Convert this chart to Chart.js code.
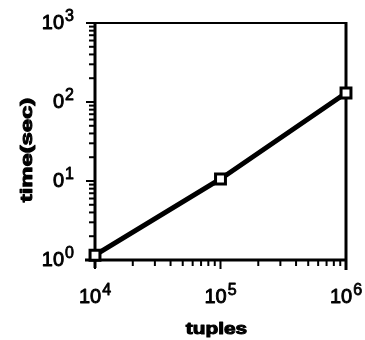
<!DOCTYPE html>
<html>
<head>
<meta charset="utf-8">
<script src="https://cdn.jsdelivr.net/npm/chart.js@4/dist/chart.umd.min.js"></script>
<style>
  html, body { margin: 0; padding: 0; background: #fff; }
  #wrap { width: 365px; height: 340px; }
</style>
</head>
<body>
<div id="wrap"><canvas id="myChart"></canvas></div>
<script>
// data
var tuples = [1e4, 1e5, 1e6];
var times = [1.15, 10.6, 130];

// tick labels (base + exponent), as printed in the figure
var xTickValues = [1e4, 1e5, 1e6];
var xTickBases = ['10', '10', '10'];
var xTickExps = ['4', '5', '6'];
var yTickValues = [1, 10, 100, 1000];
var yTickBases = ['10', '0', '0', '10'];
var yTickExps = ['0', '1', '2', '3'];

var xTitle = 'tuples';
var yTitle = 'time(sec)';

var FONT = '"Liberation Sans", Arial, sans-serif';

// heavy text, like the scanned print
function inkText(ctx, s, x, y, w) {
  ctx.lineWidth = w;
  ctx.strokeText(s, x, y);
  ctx.fillText(s, x, y);
}

function powLabel(ctx, base, exp, x, y, align) {
  ctx.font = '20px ' + FONT;
  var wb = ctx.measureText(base).width;
  ctx.font = '16px ' + FONT;
  var we = ctx.measureText(exp).width;
  var left = align === 'right' ? x - wb - we - 1 : x - (wb + we + 1) / 2;
  ctx.textAlign = 'left';
  ctx.textBaseline = 'alphabetic';
  ctx.font = '20px ' + FONT;
  inkText(ctx, base, left, y, 0.9);
  ctx.font = '16px ' + FONT;
  inkText(ctx, exp, left + wb + 1, y - 8, 0.8);
}

// axes, ticks, labels and titles drawn from the chart's own scales
var axesPlugin = {
  id: 'axesPlugin',
  beforeDatasetsDraw: function (chart) {
    var ctx = chart.ctx, a = chart.chartArea;
    var xs = chart.scales.x, ys = chart.scales.y;
    ctx.save();
    ctx.strokeStyle = '#000';
    ctx.fillStyle = '#000';
    ctx.lineCap = 'butt';
    ctx.lineJoin = 'round';
    // frame
    ctx.lineWidth = 2;
    ctx.beginPath(); ctx.moveTo(a.left, a.top); ctx.lineTo(a.right, a.top); ctx.stroke();
    ctx.lineWidth = 3;
    ctx.beginPath(); ctx.moveTo(a.right, a.top - 1); ctx.lineTo(a.right, a.bottom + 10); ctx.stroke();
    ctx.beginPath(); ctx.moveTo(a.left, a.top - 1); ctx.lineTo(a.left, a.bottom + 8); ctx.stroke();
    ctx.beginPath(); ctx.moveTo(a.left - 10, a.bottom); ctx.lineTo(a.right, a.bottom); ctx.stroke();
    // ticks
    ctx.lineWidth = 2;
    var d, m, p;
    for (d = 0; d < 3; d++) {
      for (m = 2; m <= 9; m++) {
        p = ys.getPixelForValue(m * Math.pow(10, d));
        ctx.beginPath(); ctx.moveTo(a.left - 6, p); ctx.lineTo(a.left, p); ctx.stroke();
      }
    }
    yTickValues.forEach(function (v) {
      p = ys.getPixelForValue(v);
      ctx.beginPath(); ctx.moveTo(a.left - 9, p); ctx.lineTo(a.left, p); ctx.stroke();
    });
    for (d = 4; d < 6; d++) {
      for (m = 2; m <= 9; m++) {
        p = xs.getPixelForValue(m * Math.pow(10, d));
        ctx.beginPath(); ctx.moveTo(p, a.bottom); ctx.lineTo(p, a.bottom + 6); ctx.stroke();
      }
    }
    xTickValues.forEach(function (v) {
      p = xs.getPixelForValue(v);
      ctx.beginPath(); ctx.moveTo(p, a.bottom); ctx.lineTo(p, a.bottom + 9); ctx.stroke();
    });
    // tick labels
    xTickValues.forEach(function (v, i) {
      powLabel(ctx, xTickBases[i], xTickExps[i], xs.getPixelForValue(v), a.bottom + 43, 'center');
    });
    yTickValues.forEach(function (v, i) {
      powLabel(ctx, yTickBases[i], yTickExps[i], 74, ys.getPixelForValue(v) + 6, 'right');
    });
    // titles
    ctx.textAlign = 'center';
    ctx.textBaseline = 'alphabetic';
    ctx.save();
    ctx.translate((a.left + a.right) / 2 - 4, 334);
    ctx.scale(1.3, 1);
    ctx.font = 'bold 16px ' + FONT;
    inkText(ctx, xTitle, 0, 0, 1);
    ctx.restore();
    ctx.save();
    ctx.translate(27, 150);
    ctx.rotate(-Math.PI / 2);
    ctx.scale(1.4, 1);
    ctx.font = 'bold 17px ' + FONT;
    ctx.textBaseline = 'middle';
    inkText(ctx, yTitle, 0, 0, 1);
    ctx.restore();
    ctx.restore();
  }
};

var pts = tuples.map(function (t, i) { return { x: t, y: times[i] }; });

var ctx = document.getElementById('myChart').getContext('2d');
var chart = new Chart(ctx, {
  type: 'line',
  data: {
    datasets: [{
      data: pts,
      borderColor: '#000',
      borderWidth: 5,
      tension: 0,
      pointStyle: 'rect',
      pointRadius: 7,
      pointBorderWidth: 3,
      pointBackgroundColor: '#fff',
      pointBorderColor: '#000',
      clip: false
    }, {
      data: pts,
      showLine: false,
      pointStyle: 'circle',
      pointRadius: 1.2,
      pointBorderWidth: 0,
      pointBackgroundColor: '#000',
      clip: false
    }]
  },
  options: {
    responsive: true,
    maintainAspectRatio: false,
    animation: false,
    events: [],
    layout: { padding: { left: 95, right: 19, top: 23, bottom: 80 } },
    plugins: { legend: { display: false }, tooltip: { enabled: false } },
    scales: {
      x: { type: 'logarithmic', min: 1e4, max: 1e6, display: false },
      y: { type: 'logarithmic', min: 1, max: 1000, display: false }
    }
  },
  plugins: [axesPlugin]
});
</script>
</body>
</html>
